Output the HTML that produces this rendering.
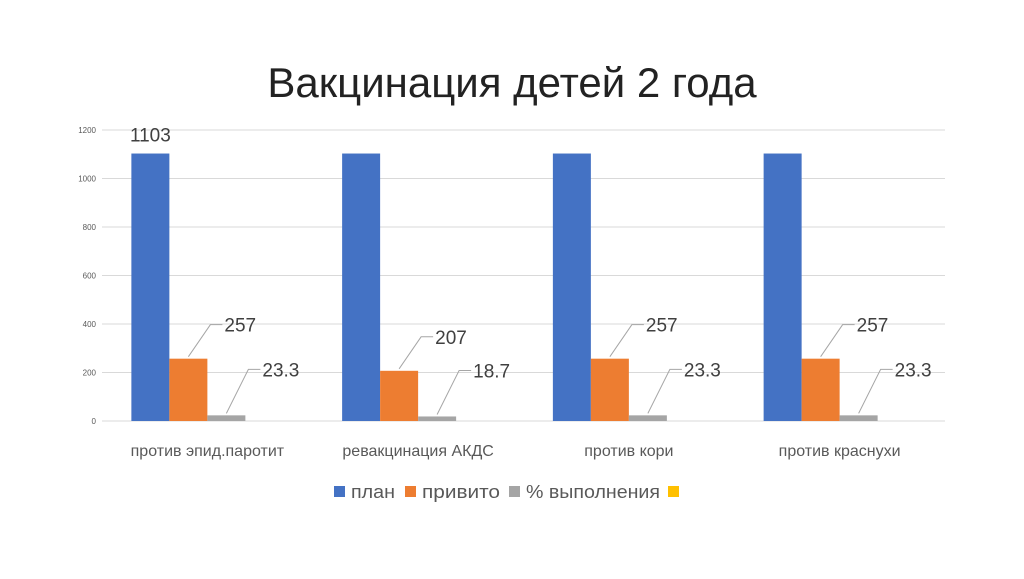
<!DOCTYPE html>
<html><head><meta charset="utf-8"><style>
body{margin:0;background:#fff;}
svg text{font-family:"Liberation Sans","DejaVu Sans",sans-serif;}
</style></head><body>
<svg width="1024" height="574">
<text x="512" y="97" text-anchor="middle" font-size="42" fill="#222">Вакцинация детей 2 года</text>
<g id="grid"></g><g id="bars"></g><g id="labels"></g>
<g font-size="18" fill="#595959">
<rect x="334" y="486" width="11" height="11" fill="#4472C4"/>
<text x="351" y="498" textLength="44" lengthAdjust="spacingAndGlyphs">план</text>
<rect x="405" y="486" width="11" height="11" fill="#ED7D31"/>
<text x="422" y="498" textLength="78" lengthAdjust="spacingAndGlyphs">привито</text>
<rect x="509" y="486" width="11" height="11" fill="#A5A5A5"/>
<text x="526" y="498" textLength="134" lengthAdjust="spacingAndGlyphs">% выполнения</text>
<rect x="668" y="486" width="11" height="11" fill="#FFC000"/>
</g>
</svg>
<script>
const categories=["против эпид.паротит","ревакцинация АКДС","против кори","против краснухи"];
const plan=[1103,1103,1103,1103];
const privito=[257,207,257,257];
const percent=[23.3,18.7,23.3,23.3];
const yTicks=[0,200,400,600,800,1000,1200];
const ns="http://www.w3.org/2000/svg";
const x0=102,x1=945,yb=421,yt=130,ymax=1200;
const y=v=>yb-(v/ymax)*(yb-yt);
const bw=(x1-x0)/categories.length;
const barW=38;
function mk(t,a,p){const e=document.createElementNS(ns,t);for(const k in a)e.setAttribute(k,a[k]);p.appendChild(e);return e;}
const G=document.getElementById('grid'),B=document.getElementById('bars'),L=document.getElementById('labels');
yTicks.forEach(t=>{
 const l=mk('line',{x1:x0,x2:x1,y1:y(t),y2:y(t),stroke:'#d9d9d9','stroke-width':1},G);
 
 
 const tx=mk('text',{x:96,y:y(t)+3,'text-anchor':'end','font-size':8,fill:'#595959'},G);
 tx.textContent=t;
 
 
});
const series=[[plan,'#4472C4','plan'],[privito,'#ED7D31','privito'],[percent,'#A5A5A5','percent']];
categories.forEach((c,i)=>{
 const cx=x0+bw*(i+0.5);
 const start=cx-2*barW;
 series.forEach(([arr,col,nm],s)=>{
  const bx=start+s*barW,v=arr[i];
  const r=mk('rect',{x:bx,y:y(v),width:barW,height:yb-y(v),fill:col},B);
  
  
  if(s===0&&i>0)return;
  const t=mk('text',{'font-size':19,fill:'#404040'},L);
  t.textContent=v;
  
  
  if(s===0){t.setAttribute('x',bx+barW/2);t.setAttribute('y',y(v)-12);t.setAttribute('text-anchor','middle');}
  else{
   const bxm=bx+barW/2, by=y(v)-2;
   const lx=bxm+22, ly=y(v)-(s===1?34:46);
   const pl=mk('polyline',{points:`${bxm},${by} ${lx},${ly} ${lx+12},${ly}`,fill:'none',stroke:'#a6a6a6','stroke-width':1},L);
   
   
   t.setAttribute('x',lx+14);t.setAttribute('y',ly+7);
  }
 });
 const ct=mk('text',{x:cx,y:456,'text-anchor':'middle','font-size':16,fill:'#595959'},L);
 ct.textContent=c;
 
 
});
</script>
</body></html>
